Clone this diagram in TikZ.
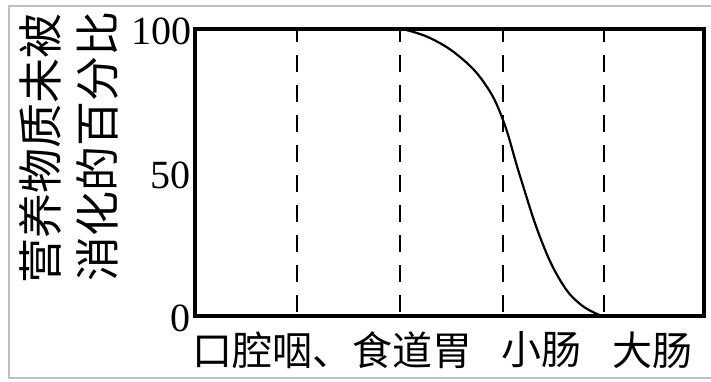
\documentclass[tikz,border=0pt]{standalone}
\usepackage{fontspec}
\setmainfont{Liberation Serif}
\newfontfamily\cjk{Noto Sans CJK SC}

\begin{document}
\begin{tikzpicture}[x = 1pt, y = 1pt]
	\tikzstyle{frameStyle} = [line width = 3.6pt, line join = miter]
	\tikzstyle{sectionStyle} = [line width = 2.8pt, dash pattern = on 17pt off 13pt, dash phase = 4pt]
	\tikzstyle{curveStyle} = [line width = 2.2pt, line cap = round]
	\tikzstyle{tickStyle} = [anchor = east, inner sep = 0pt, font = \fontsize{40}{40}\selectfont]
	\tikzstyle{organStyle} = [anchor = west, inner sep = 0pt, font = \cjk\fontsize{40}{40}\selectfont]
	\tikzstyle{axisStyle} = [rotate = 90, anchor = west, inner sep = 0pt, font = \cjk\fontsize{45}{45}\selectfont]
	\useasboundingbox (0, 0) rectangle (711, -381);
	\draw[gray!50, line width = 1.8pt] (9, -6) rectangle (716, -378);
	\coordinate (o) at (195, -316);
	\coordinate (top) at (195, -29);
	\coordinate (end) at (704, -29);
	\coordinate (endo) at (704, -316);
	\draw[frameStyle] (o) -- (top) -- (end) -- (endo) -- cycle;
	\foreach \name/\x in {s1/297, s2/400, s3/503, s4/604}{
		\coordinate (\name t) at (\x, -29);
		\coordinate (\name b) at (\x, -316);
		\draw[sectionStyle] (\name t) -- (\name b);
	}
	\draw[curveStyle] plot[smooth, tension = 0.7] coordinates {(402, -29) (430, -38) (460, -57) (485, -84) (503, -120) (520, -176) (540, -237) (560, -280) (580, -304) (602, -316)};
	\node[tickStyle] (t100) at (192, -31) {100};
	\node[tickStyle] (t50) at (191, -175) {50};
	\node[tickStyle] (t0) at (191, -318) {0};
	\node[axisStyle] (label1) at (40, -284) {营养物质未被};
	\node[axisStyle] (label2) at (97, -282) {消化的百分比};
	\node[organStyle] (mouth) at (192, -350) {口腔咽、食道胃};
	\node[organStyle] (small) at (501, -350) {小肠};
	\node[organStyle] (large) at (612, -350) {大肠};
\end{tikzpicture}
\end{document}
